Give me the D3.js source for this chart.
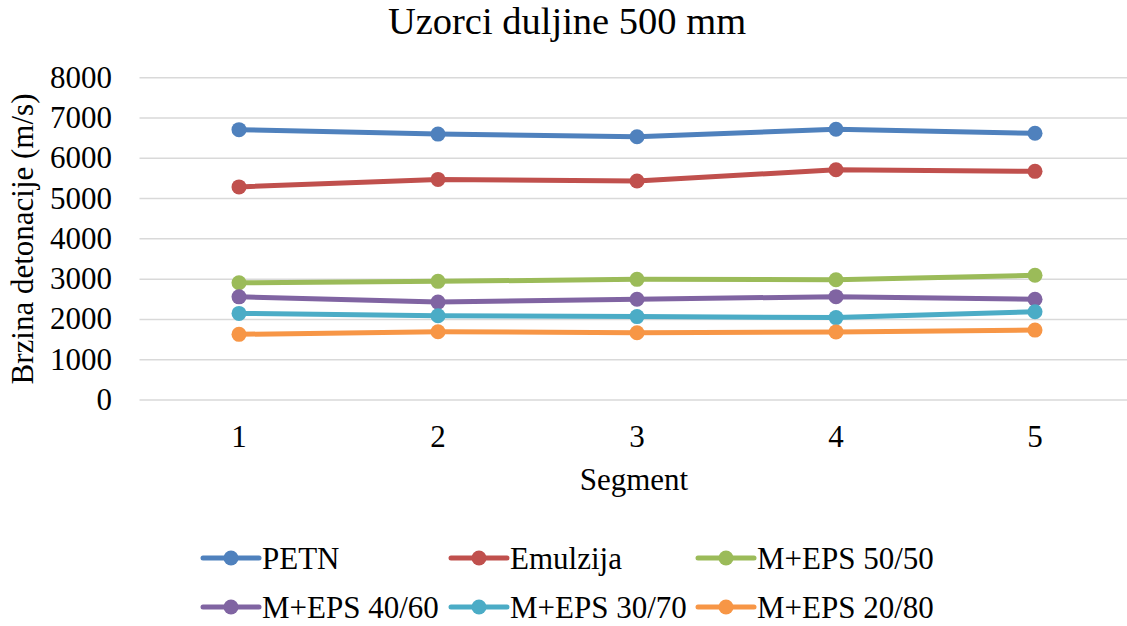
<!DOCTYPE html>
<html>
<head>
<meta charset="utf-8">
<script src="https://cdn.jsdelivr.net/npm/d3@7"></script>
<style>
  body { margin: 0; background: #fff; }
  svg { display: block; font-family: "Liberation Serif", "Times New Roman", serif; }
</style>
</head>
<body>
<div id="chart"></div>
<script>
const segments = [1, 2, 3, 4, 5];
const yTicks = [0, 1000, 2000, 3000, 4000, 5000, 6000, 7000, 8000];

const seriesNames = ['PETN', 'Emulzija', 'M+EPS 50/50', 'M+EPS 40/60', 'M+EPS 30/70', 'M+EPS 20/80'];
const seriesColors = ['#4F81BD', '#C0504D', '#9BBB59', '#8064A2', '#4BACC6', '#F79646'];

const petn = [6710, 6600, 6535, 6720, 6620];
const emulzija = [5290, 5475, 5435, 5715, 5675];
const eps5050 = [2910, 2945, 2995, 2985, 3095];
const eps4060 = [2560, 2430, 2500, 2565, 2500];
const eps3070 = [2150, 2090, 2070, 2045, 2190];
const eps2080 = [1630, 1695, 1670, 1690, 1735];

const seriesValues = [petn, emulzija, eps5050, eps4060, eps3070, eps2080];

const series = seriesNames.map((name, i) => ({
  name,
  color: seriesColors[i],
  values: segments.map((s, j) => ({ seg: s, v: seriesValues[i][j] })),
}));

const width = 1127;
const height = 626;

const svg = d3.select('#chart')
  .append('svg')
  .attr('width', width)
  .attr('height', height);

const xScale = d3.scalePoint()
  .domain(segments)
  .range([139.5, 1134.5])
  .padding(0.5);

const yScale = d3.scaleLinear()
  .domain([0, 8000])
  .range([400, 77.7]);

// gridlines
svg.append('g')
  .selectAll('line')
  .data(yTicks)
  .join('line')
  .attr('x1', 139.5)
  .attr('x2', width)
  .attr('y1', d => yScale(d))
  .attr('y2', d => yScale(d))
  .attr('stroke', '#D9D9D9')
  .attr('stroke-width', 1.5);

// y tick labels
svg.append('g')
  .selectAll('text')
  .data(yTicks)
  .join('text')
  .attr('x', 112)
  .attr('y', d => yScale(d) + 10)
  .attr('text-anchor', 'end')
  .attr('font-size', 31)
  .attr('fill', '#000')
  .text(d => d);

// x tick labels
svg.append('g')
  .selectAll('text')
  .data(segments)
  .join('text')
  .attr('x', d => xScale(d))
  .attr('y', 447)
  .attr('text-anchor', 'middle')
  .attr('font-size', 31)
  .attr('fill', '#000')
  .text(d => d);

// title
svg.append('text')
  .attr('x', 567)
  .attr('y', 34)
  .attr('text-anchor', 'middle')
  .attr('font-size', 38.5)
  .text('Uzorci duljine 500 mm');

// axis titles
svg.append('text')
  .attr('x', 634)
  .attr('y', 490)
  .attr('text-anchor', 'middle')
  .attr('font-size', 31)
  .text('Segment');

svg.append('text')
  .attr('transform', 'translate(33, 239) rotate(-90)')
  .attr('text-anchor', 'middle')
  .attr('font-size', 31)
  .text('Brzina detonacije (m/s)');

// lines
const line = d3.line()
  .x(d => xScale(d.seg))
  .y(d => yScale(d.v));

const groups = svg.append('g')
  .selectAll('g')
  .data(series)
  .join('g');

groups.append('path')
  .attr('d', d => line(d.values))
  .attr('fill', 'none')
  .attr('stroke', d => d.color)
  .attr('stroke-width', 5)
  .attr('stroke-linejoin', 'round')
  .attr('stroke-linecap', 'round');

groups.selectAll('circle')
  .data(d => d.values.map(p => ({ ...p, color: d.color })))
  .join('circle')
  .attr('cx', d => xScale(d.seg))
  .attr('cy', d => yScale(d.v))
  .attr('r', 7.5)
  .attr('fill', d => d.color);

// legend
const legendCols = [203, 451, 698];
const legendRows = [558, 607];

const legend = svg.append('g')
  .selectAll('g')
  .data(series)
  .join('g')
  .attr('transform', (d, i) => `translate(${legendCols[i % 3]}, ${legendRows[Math.floor(i / 3)]})`);

legend.append('line')
  .attr('x1', 0)
  .attr('x2', 56)
  .attr('stroke', d => d.color)
  .attr('stroke-width', 5)
  .attr('stroke-linecap', 'round');

legend.append('circle')
  .attr('cx', 28)
  .attr('r', 7.5)
  .attr('fill', d => d.color);

legend.append('text')
  .attr('x', 59)
  .attr('y', 10.5)
  .attr('font-size', 31)
  .text(d => d.name);
</script>
</body>
</html>
